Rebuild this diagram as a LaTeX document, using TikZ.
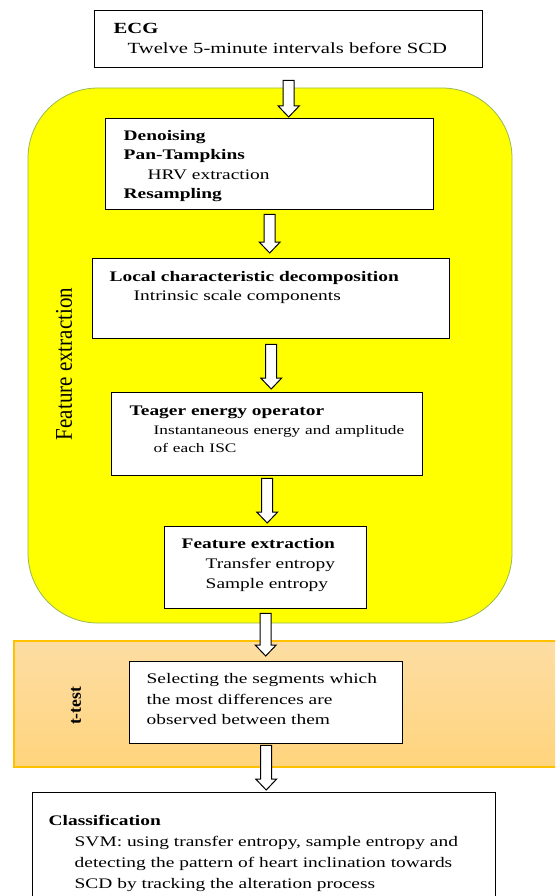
\documentclass[tikz,border=0pt]{standalone}
\usepackage{fontspec}
\setmainfont{Liberation Serif}[FakeStretch=1.33]
\newfontfamily\rotfont{Liberation Serif}[FakeStretch=0.875]
\newfontfamily\plainserif{Liberation Serif}
\usetikzlibrary{calc}
\definecolor{ylw}{RGB}{255,255,0}
\definecolor{ylwborder}{RGB}{150,185,80}
\definecolor{orTop}{RGB}{253,221,163}
\definecolor{orBot}{RGB}{255,212,125}
\definecolor{orBorder}{RGB}{255,192,0}
\newcommand\blockarrow[4]{%
  \draw[blockarr] let \p1=(#1.south), \p2=(#2.north) in
    (\x1-5.5pt,\y1-#3pt) -- (\x1+5.5pt,\y1-#3pt) -- (\x1+5.5pt,\y2+#4pt+11pt)
    -- (\x1+10.5pt,\y2+#4pt+11pt) -- (\x1,\y2+#4pt) -- (\x1-10.5pt,\y2+#4pt+11pt)
    -- (\x1-5.5pt,\y2+#4pt+11pt) -- cycle;}
\begin{document}
\begin{tikzpicture}[x=1pt,y=-1pt,
  box/.style={draw=black, line width=1.4pt, fill=white, anchor=north west,
    align=left, inner ysep=0pt},
  blockarr/.style={draw=black, line width=1pt, fill=white, line join=miter},
  basefont/.style={font=\fontsize{14.6}{#1}\selectfont}]
\useasboundingbox (0,0) rectangle (555,896);
\clip (0,0) rectangle (555,896);
\fill[white] (0,0) rectangle (555,896);
% regions
\draw[draw=ylwborder, line width=0.8pt, fill=ylw, rounded corners=70pt]
  (28,88) rectangle (512,623);
\draw[draw=orBorder, line width=1.2pt, top color=orTop, bottom color=orBot]
  (14,641) rectangle (575,767);
\node[rotate=90, font=\rotfont\fontsize{24}{24}\selectfont] (felabel) at (64,364) {Feature extraction};
\node[rotate=90, font=\plainserif\bfseries\fontsize{17.5}{18}\selectfont] (ttlabel) at (76,706) {t-test};
% boxes
\node[box, inner xsep=19pt, text width=350pt, text height=23pt, text depth=34pt,
  font=\fontsize{15.5}{20}\selectfont] (ecg) at (94,10)
  {\textbf{ECG}\\\hspace*{14pt}Twelve 5-minute intervals before SCD};
\node[box, inner xsep=18pt, text width=292pt, text height=22pt, text depth=69pt,
  basefont=19.3] (pre) at (105,118)
  {\textbf{Denoising}\\\textbf{Pan-Tampkins}\\\hspace*{24pt}HRV extraction\\\textbf{Resampling}};
\node[box, inner xsep=17pt, text width=323pt, text height=23pt, text depth=57pt,
  basefont=19] (lcd) at (92,258)
  {\textbf{Local characteristic decomposition}\\\hspace*{24pt}Intrinsic scale components};
\node[box, inner xsep=18pt, text width=275pt, text height=23pt, text depth=60pt,
  basefont=18.5] (teo) at (111,392)
  {\textbf{Teager energy operator}\\{\fontsize{13}{18.5}\selectfont\hspace*{24pt}\mbox{Instantaneous energy and amplitude}\\\hspace*{24pt}of each ISC}};
\node[box, inner xsep=17pt, text width=168pt, text height=22pt, text depth=60pt,
  basefont=19.8] (fex) at (164,526)
  {\textbf{Feature extraction}\\\hspace*{24pt}Transfer entropy\\\hspace*{24pt}Sample entropy};
\node[box, inner xsep=17pt, text width=239pt, text height=22pt, text depth=60pt,
  basefont=20.5] (sel) at (129,661)
  {Selecting the segments which\\the most differences are\\observed between them};
\node[box, inner xsep=16pt, text width=431pt, text height=33pt, text depth=110pt,
  basefont=21] (cls) at (32,792)
  {\textbf{Classification}\\\hspace*{26pt}SVM: using transfer entropy, sample entropy and\\\hspace*{26pt}detecting the pattern of heart inclination towards\\\hspace*{26pt}SCD by tracking the alteration process};
% arrows
\blockarrow{ecg}{pre}{12}{1}
\blockarrow{pre}{lcd}{4}{5}
\blockarrow{lcd}{teo}{5}{3}
\blockarrow{teo}{fex}{2}{3}
\blockarrow{fex}{sel}{4}{5}
\blockarrow{sel}{cls}{1}{2}
\end{tikzpicture}
\end{document}
